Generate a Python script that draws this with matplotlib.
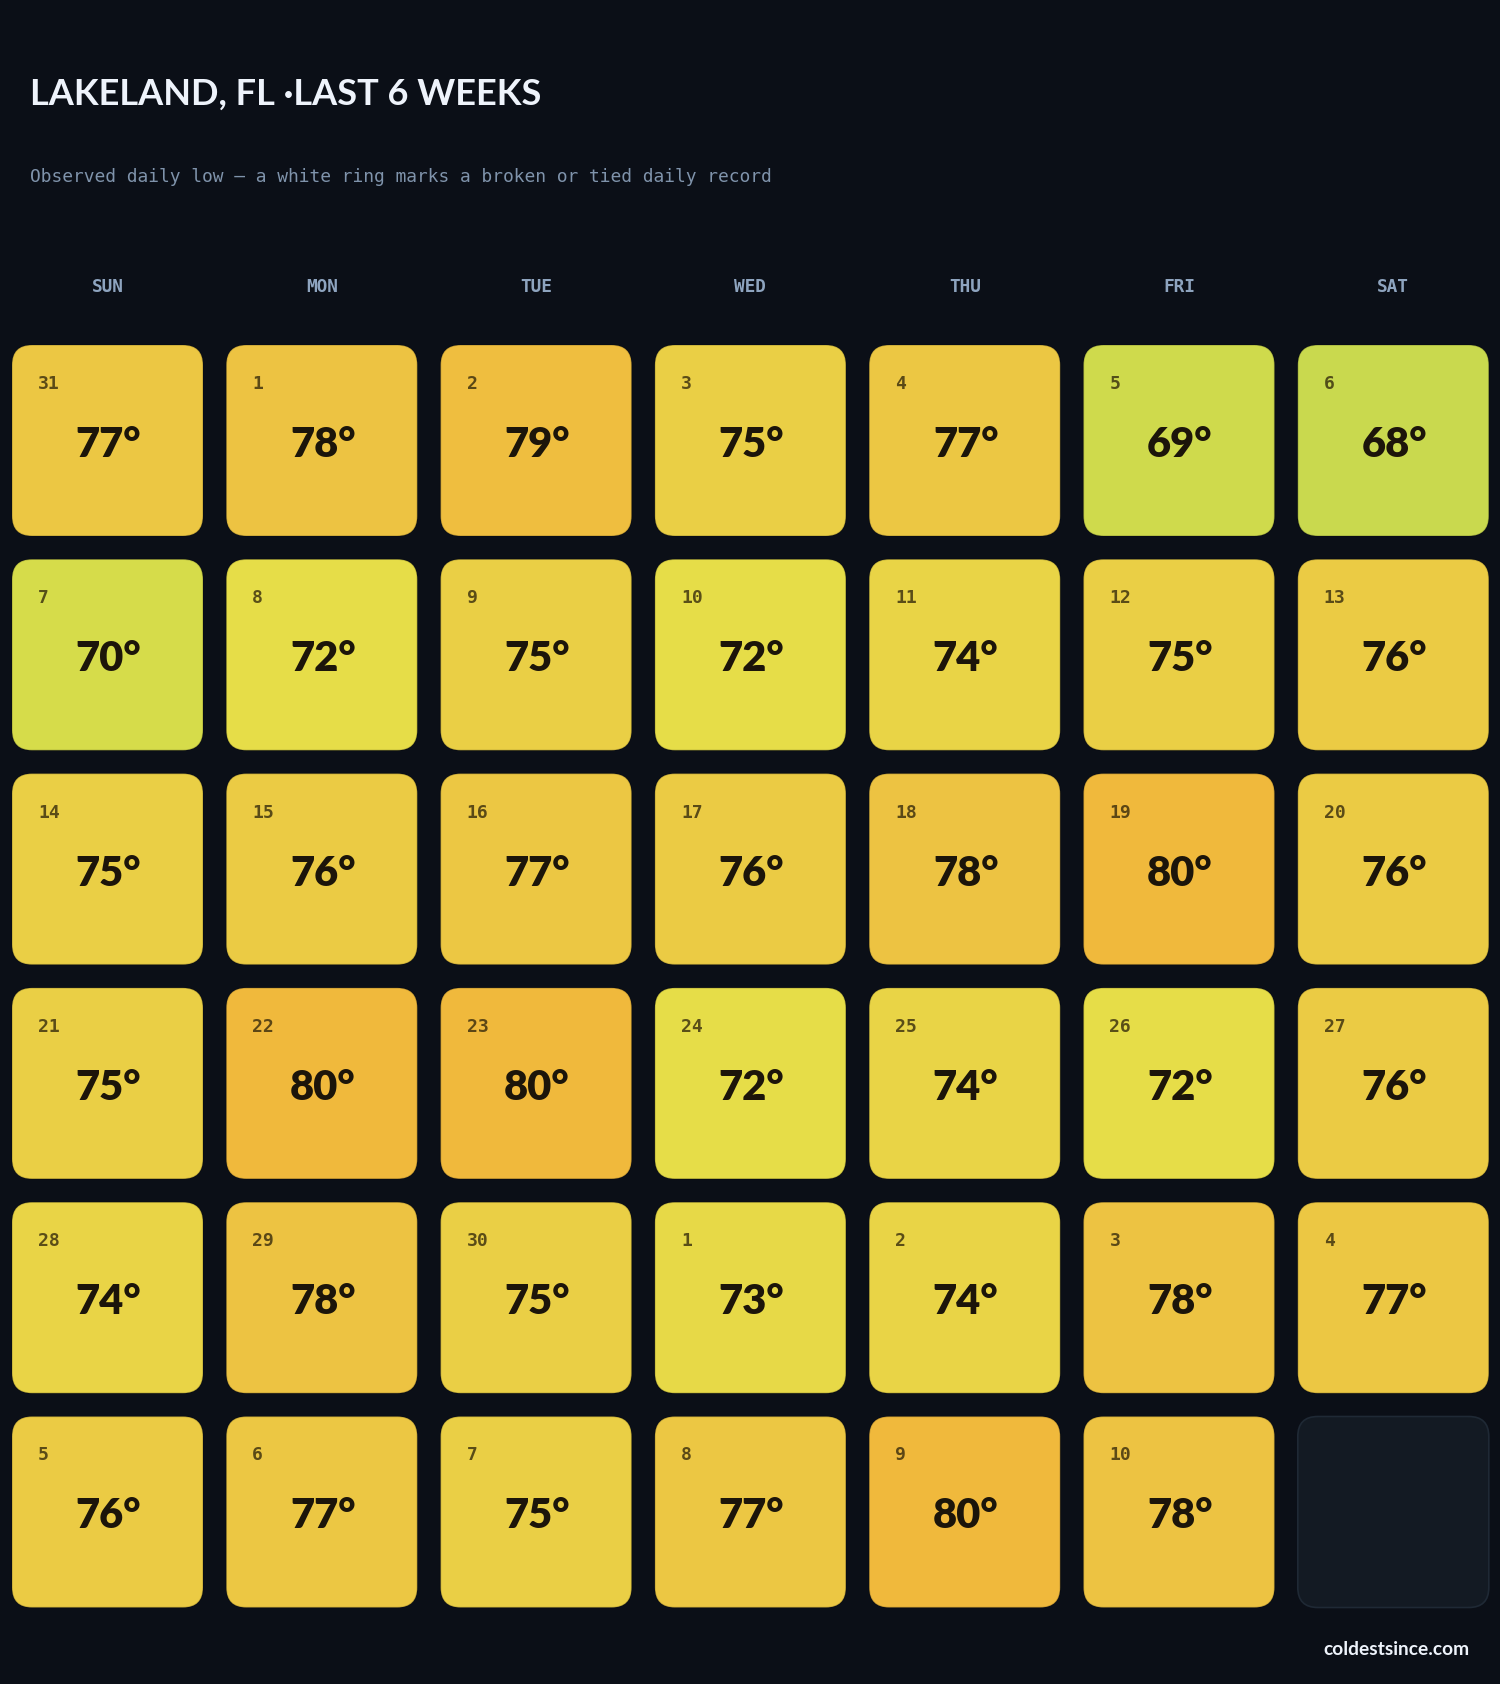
import matplotlib
matplotlib.use("Agg")
import matplotlib.pyplot as plt
from matplotlib.patches import FancyBboxPatch
from matplotlib.colors import LinearSegmentedColormap, Normalize

# ---- data ----
title = "LAKELAND, FL ·LAST 6 WEEKS"
subtitle = "Observed daily low — a white ring marks a broken or tied daily record"
weekdays = ["SUN", "MON", "TUE", "WED", "THU", "FRI", "SAT"]
day_numbers = [31, 1, 2, 3, 4, 5, 6,
               7, 8, 9, 10, 11, 12, 13,
               14, 15, 16, 17, 18, 19, 20,
               21, 22, 23, 24, 25, 26, 27,
               28, 29, 30, 1, 2, 3, 4,
               5, 6, 7, 8, 9, 10]
daily_lows = [77, 78, 79, 75, 77, 69, 68,
              70, 72, 75, 72, 74, 75, 76,
              75, 76, 77, 76, 78, 80, 76,
              75, 80, 80, 72, 74, 72, 76,
              74, 78, 75, 73, 74, 78, 77,
              76, 77, 75, 77, 80, 78]
footer = "coldestsince.com"

# ---- style ----
W, H = 1500, 1684
BG = "#0b0f17"
cmap = LinearSegmentedColormap.from_list(
    "lows",
    [(0.0, "#c9d94e"), (2/12, "#d6dc4a"), (4/12, "#e6dd48"), (6/12, "#e9d446"),
     (8/12, "#ebcb44"), (10/12, "#edc342"), (1.0, "#f0b93c")])
norm = Normalize(vmin=68, vmax=80)

fig = plt.figure(figsize=(W / 100, H / 100), dpi=100, facecolor=BG)
ax = fig.add_axes([0, 0, 1, 1])
ax.set_xlim(0, W)
ax.set_ylim(H, 0)
ax.axis("off")
ax.set_facecolor(BG)

SANS = ["Lato", "DejaVu Sans"]
MONO = ["DejaVu Sans Mono"]

ax.text(30, 105, title, color="#eef3fb", fontsize=26, fontweight="bold",
        family=SANS, ha="left", va="baseline")
ax.text(30, 182, subtitle, color="#7f93ab", fontsize=12.85,
        family=MONO, ha="left", va="baseline")

x0, y0 = 12, 345
pitch = 214.3
size = 191
rad = 20

for c, wd in enumerate(weekdays):
    ax.text(x0 + c * pitch + size / 2, 292, wd, color="#8ea4bf", fontsize=12.8,
            fontweight="bold", family=MONO, ha="center", va="baseline")

n_cells = 42
for i in range(n_cells):
    r, c = divmod(i, 7)
    left = x0 + c * pitch
    top = y0 + r * pitch
    if i < len(daily_lows):
        t = daily_lows[i]
        fc = cmap(norm(t))
        p = FancyBboxPatch((left + rad, top + rad), size - 2 * rad, size - 2 * rad,
                           boxstyle=f"round,pad={rad}", facecolor=fc,
                           edgecolor=(0, 0, 0, 0.18), linewidth=1.0)
        ax.add_patch(p)
        ax.text(left + 26, top + 44, str(day_numbers[i]), color="#2a2008",
                alpha=0.75, fontsize=13, fontweight="bold", family=MONO,
                ha="left", va="baseline")
        ax.text(left + size / 2 + 1, top + 112, f"{t}°", color="#1c150a",
                fontsize=30, fontweight="heavy", family=SANS,
                ha="center", va="baseline")
    else:
        p = FancyBboxPatch((left + rad, top + rad), size - 2 * rad, size - 2 * rad,
                           boxstyle=f"round,pad={rad}", facecolor="#131a23",
                           edgecolor="#1f2935", linewidth=1.2)
        ax.add_patch(p)

ax.text(1469, 1655, footer, color="#eef3fb", fontsize=13.8, fontweight="bold",
        family=SANS, ha="right", va="baseline")

fig.savefig("out.png", dpi=100, facecolor=BG)
